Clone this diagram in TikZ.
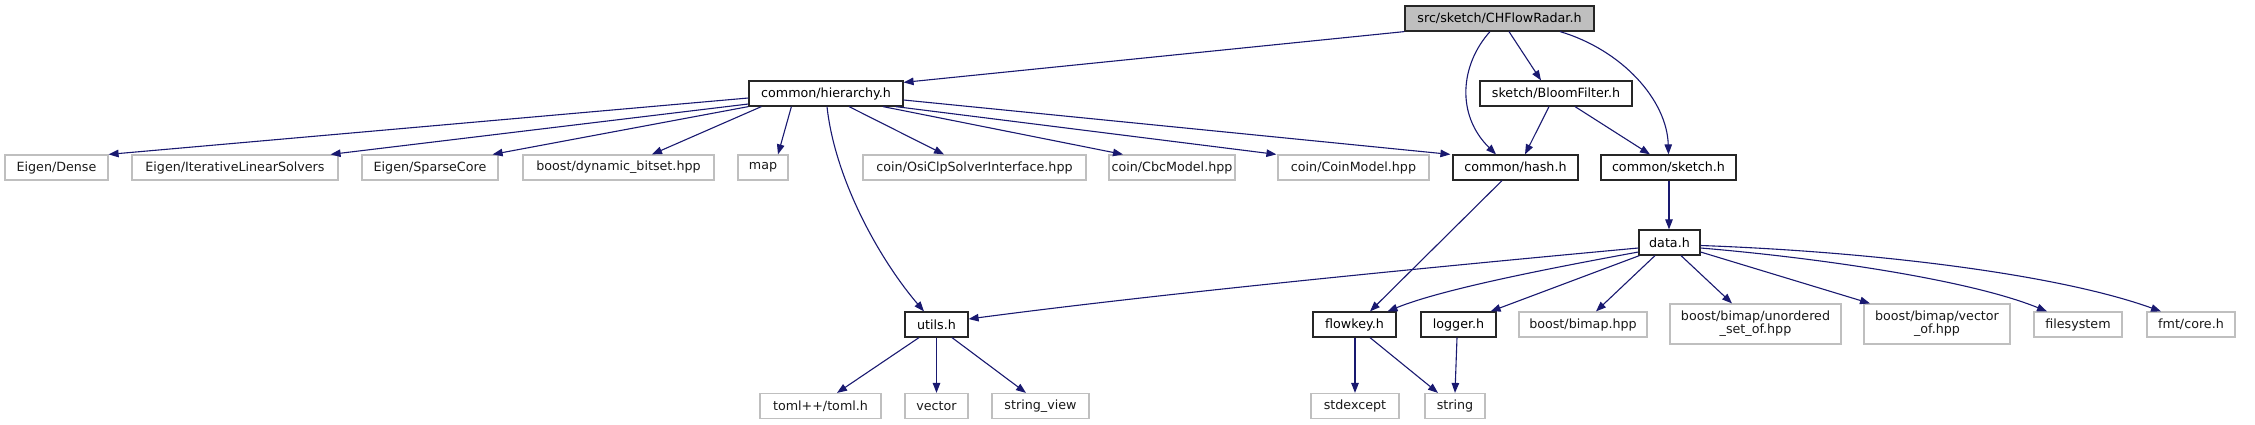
\documentclass[tikz,border=0pt]{standalone}
\usepackage{fontspec}
\setmainfont{DejaVu Sans}
\usetikzlibrary{arrows.meta}
\definecolor{edgec}{HTML}{191970}
\definecolor{greyb}{HTML}{BFBFBF}
\begin{document}
\begin{tikzpicture}[x=1pt,y=-1pt,
  base/.style={rectangle, inner sep=0pt, minimum height=25pt, align=center, font=\fontsize{12.7}{13.3}\selectfont, line width=1.2pt},
  bbox/.style={base, draw=black!85},
  gbox/.style={base, draw=greyb, text=black!90},
  rbox/.style={base, draw=black!85, fill=greyb},
  edge/.style={draw=edgec, line width=1.1pt, -{Triangle[length=10pt,width=7.5pt]}}
]
\useasboundingbox (0,0) rectangle (2255,425);
% row 0
\node[rbox, minimum width=189pt] (root) at (1499.5,18.5) {src/sketch/CHFlowRadar.h};
% row 1
\node[bbox, minimum width=154pt] (hier) at (826,93.5) {common/hierarchy.h};
\node[bbox, minimum width=152pt] (bloom) at (1556,93.5) {sketch/BloomFilter.h};
% row 2
\node[gbox, minimum width=103pt] (dense) at (56.5,167.5) {Eigen/Dense};
\node[gbox, minimum width=206pt] (iter) at (235,167.5) {Eigen/IterativeLinearSolvers};
\node[gbox, minimum width=136pt] (sparse) at (430,167.5) {Eigen/SparseCore};
\node[gbox, minimum width=191pt] (bitset) at (618.5,167.5) {boost/dynamic\_bitset.hpp};
\node[gbox, minimum width=50pt] (map) at (763,167.5) {map};
\node[gbox, minimum width=223pt] (osi) at (974.5,167.5) {coin/OsiClpSolverInterface.hpp};
\node[gbox, minimum width=126pt] (cbc) at (1172,167.5) {coin/CbcModel.hpp};
\node[gbox, minimum width=151pt] (coinm) at (1353.5,167.5) {coin/CoinModel.hpp};
\node[bbox, minimum width=125pt] (hash) at (1515.5,167.5) {common/hash.h};
\node[bbox, minimum width=135pt] (sketch) at (1668.5,167.5) {common/sketch.h};
% row 3
\node[bbox, minimum width=61pt] (data) at (1669.5,242.5) {data.h};
% row 4
\node[bbox, minimum width=63pt] (utils) at (936.5,324.5) {utils.h};
\node[bbox, minimum width=83pt] (flowkey) at (1354.5,324.5) {flowkey.h};
\node[bbox, minimum width=75pt] (logger) at (1458.5,324.5) {logger.h};
\node[gbox, minimum width=128pt] (bimap) at (1583,324.5) {boost/bimap.hpp};
\node[gbox, minimum width=171pt, minimum height=40pt] (unord) at (1755.5,324) {boost/bimap/unordered\\\_set\_of.hpp};
\node[gbox, minimum width=146pt, minimum height=40pt] (vecof) at (1937,324) {boost/bimap/vector\\\_of.hpp};
\node[gbox, minimum width=88pt] (fs) at (2078,324.5) {filesystem};
\node[gbox, minimum width=88pt] (fmt) at (2191,324.5) {fmt/core.h};
% row 5
\node[gbox, minimum width=121pt] (toml) at (820.5,406) {toml++/toml.h};
\node[gbox, minimum width=63pt] (vector) at (936.5,406) {vector};
\node[gbox, minimum width=97pt] (sview) at (1040.5,406) {string\_view};
\node[gbox, minimum width=88pt] (stdexc) at (1355,406) {stdexcept};
\node[gbox, minimum width=60pt] (string) at (1455,406) {string};

% edges from root
\draw[edge] (root.south west) -- ([yshift=-2pt]hier.north east);
\draw[edge] ([xshift=-9.5pt]root.south) .. controls (1460,65) and (1456,115) .. ([xshift=-19.5pt]hash.north);
\draw[edge] ([xshift=9.5pt]root.south) -- ([xshift=-15pt]bloom.north);
\draw[edge] ([xshift=60.5pt]root.south) .. controls (1622,50) and (1667,100) .. (sketch.north);
% bloom
\draw[edge] ([xshift=-7pt]bloom.south) -- ([xshift=9.5pt]hash.north);
\draw[edge] ([xshift=19pt]bloom.south) -- ([xshift=-18.5pt]sketch.north);
% hierarchy
\draw[edge] ([yshift=-4.5pt]hier.west) -- (dense.north east);
\draw[edge] ([yshift=-10.5pt]hier.west) -- ([xshift=-8pt]iter.north east);
\draw[edge] (hier.south west) -- ([xshift=-6pt]sparse.north east);
\draw[edge] ([xshift=13pt]hier.south west) -- ([xshift=33.5pt]bitset.north);
\draw[edge] ([xshift=43pt]hier.south west) -- ([xshift=15pt]map.north);
\draw[edge] ([xshift=1pt]hier.south) .. controls (835,180) and (880,260) .. ([xshift=-12.5pt]utils.north);
\draw[edge] ([xshift=23pt]hier.south) -- ([xshift=-30.5pt]osi.north);
\draw[edge] ([xshift=57pt]hier.south) -- ([xshift=-49pt]cbc.north);
\draw[edge] ([xshift=-8pt]hier.south east) -- ([xshift=-1pt]coinm.north west);
\draw[edge] ([yshift=-6.5pt]hier.east) -- ([xshift=-2pt]hash.north west);
% hash, sketch
\draw[edge] ([xshift=-13.5pt]hash.south) -- ([xshift=15.5pt]flowkey.north);
\draw[edge] ([xshift=0.5pt]sketch.south) -- ([xshift=-0.5pt]data.north);
% data
\draw[edge] ([yshift=-5.5pt]data.west) .. controls (1400,270) and (1150,295) .. ([yshift=5.5pt]utils.east);
\draw[edge] ([yshift=-9.5pt]data.west) .. controls (1540,270) and (1440,290) .. ([xshift=33pt]flowkey.north);
\draw[edge] ([xshift=1pt]data.south west) -- ([xshift=-6pt]logger.north east);
\draw[edge] ([xshift=-14.5pt]data.south) -- ([xshift=13pt]bimap.north);
\draw[edge] ([xshift=11.5pt]data.south) -- ([xshift=-23.5pt]unord.north);
\draw[edge] ([yshift=-9.5pt]data.east) -- ([xshift=-67pt]vecof.north);
\draw[edge] ([yshift=-5.5pt]data.east) .. controls (1820,258) and (1970,280) .. ([xshift=-31pt]fs.north);
\draw[edge] ([yshift=-3pt]data.east) .. controls (1880,252) and (2060,275) .. ([xshift=-30pt]fmt.north);
% utils
\draw[edge] ([xshift=-17.5pt]utils.south) -- ([xshift=16.5pt]toml.north);
\draw[edge] (utils.south) -- (vector.north);
\draw[edge] ([xshift=15.5pt]utils.south) -- ([xshift=-14.5pt]sview.north);
% flowkey, logger
\draw[edge] ([xshift=0.5pt]flowkey.south) -- (stdexc.north);
\draw[edge] ([xshift=15.5pt]flowkey.south) -- ([xshift=-17pt]string.north);
\draw[edge] ([xshift=-1.5pt]logger.south) -- (string.north);
\end{tikzpicture}
\end{document}
